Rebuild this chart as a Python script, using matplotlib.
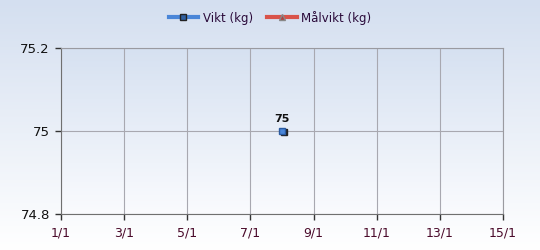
import numpy as np
import matplotlib
matplotlib.use("Agg")
import matplotlib.pyplot as plt
from matplotlib.lines import Line2D

# data
days = [8]
vikt = [75.0]
tick_days = [1, 3, 5, 7, 9, 11, 13, 15]
tick_labels = ["%d/1" % d for d in tick_days]
y_ticks = [74.8, 75.0, 75.2]
y_labels = ["74.8", "75", "75.2"]

fig = plt.figure(figsize=(5.4, 2.5), dpi=100)

# figure background gradient
bg = fig.add_axes([0, 0, 1, 1], zorder=-10)
grad = np.linspace(0, 1, 256).reshape(-1, 1)
cmap_bg = matplotlib.colors.LinearSegmentedColormap.from_list("bg", ["#d4dff0", "#ffffff"])
bg.imshow(grad, aspect="auto", cmap=cmap_bg, extent=[0, 1, 0, 1], origin="upper")
bg.axis("off")

ax = fig.add_axes([61 / 540, 1 - 214 / 250, 442 / 540, 166 / 250])
ax.patch.set_alpha(0)
cmap_ax = matplotlib.colors.LinearSegmentedColormap.from_list("ax", ["#d6e1f1", "#fafbfe"])
ax.imshow(grad, aspect="auto", cmap=cmap_ax, extent=[1, 15, 74.8, 75.2],
          origin="upper", zorder=0)

ax.set_xlim(1, 15)
ax.set_ylim(74.8, 75.2)
ax.set_xticks(tick_days)
ax.set_xticklabels(tick_labels, color="#4a0a2a", fontsize=9)
ax.set_yticks(y_ticks)
ax.set_yticklabels(y_labels, color="#111111", fontsize=9.5)
ax.grid(True, color="#a8a8b0", linewidth=0.8, zorder=1)
ax.tick_params(length=4, width=1, color="#333333")
ax.tick_params(axis="x", pad=5)
ax.tick_params(axis="y", pad=4)
for s in ["top", "right"]:
    ax.spines[s].set_color("#9a9aa0")
for s in ["left", "bottom"]:
    ax.spines[s].set_color("#707070")

# shadow + marker
ax.plot(np.array(days) + 0.06, np.array(vikt) - 0.003, "s", color="#222222",
        markersize=4.5, zorder=3)
ax.plot(days, vikt, "s", color="#4a86d8", markeredgecolor="#2a5aa0",
        markersize=4.5, zorder=4)
for d, v in zip(days, vikt):
    ax.annotate("%g" % v, (d, v), xytext=(0, 5), textcoords="offset points",
                ha="center", va="bottom", fontsize=8, fontweight="bold", color="#111111")

handles = [
    Line2D([0], [0], color="#4a86d8", linewidth=3, marker="s", markersize=4,
           markerfacecolor="#3060a0", markeredgecolor="#222222"),
    Line2D([0], [0], color="#d9534a", linewidth=3, marker="^", markersize=4,
           markerfacecolor="#b04040", markeredgecolor="#888888"),
]
fig.legend(handles, ["Vikt (kg)", "Målvikt (kg)"], loc="upper center",
           bbox_to_anchor=(0.5, 1.0), ncol=2, frameon=False, fontsize=8.5,
           handlelength=2.5, columnspacing=1.2, handletextpad=0.4,
           labelcolor="#2a0a3a")

fig.savefig("out.png", dpi=100)
